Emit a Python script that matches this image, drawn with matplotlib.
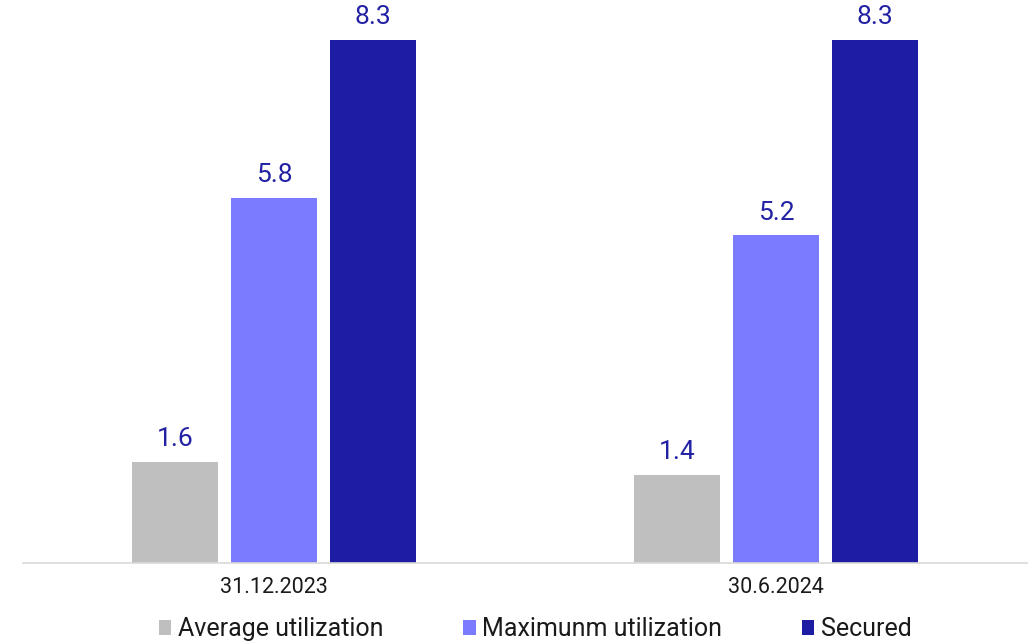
import numpy as np
import matplotlib.pyplot as plt
from matplotlib.patches import Patch

plt.rcParams['font.family'] = ['Roboto', 'DejaVu Sans']

# Data
categories = ['31.12.2023', '30.6.2024']
series_names = ['Average utilization', 'Maximunm utilization', 'Secured']
average_util = [1.6, 1.4]
maximum_util = [5.8, 5.2]
secured = [8.3, 8.3]
colors = ['#bfbfbf', '#7b7bff', '#1e1ca3']
label_color = '#2221a4'

fig = plt.figure(figsize=(10.33, 6.43), dpi=100)
ax = fig.add_axes([23 / 1033, 80 / 643, 1004 / 1033, 563 / 643])

x = np.arange(len(categories))
width = 0.171
step = 0.197

for i, (vals, col) in enumerate(zip([average_util, maximum_util, secured], colors)):
    pos = x + (i - 1) * step
    bars = ax.bar(pos, vals, width=width, color=col)
    for b, v in zip(bars, vals):
        ax.text(b.get_x() + b.get_width() / 2, v + 0.17, f'{v:.1f}',
                ha='center', va='bottom', fontsize=19, color=label_color)

ax.set_xlim(-0.5, 1.5)
ax.set_ylim(0, 563 / 63.0)
ax.set_xticks(x)
ax.set_xticklabels(categories, fontsize=15.5, color='#1a1a1a')
ax.tick_params(axis='x', length=0, pad=10)
ax.set_yticks([])
for s in ['top', 'left', 'right']:
    ax.spines[s].set_visible(False)
ax.spines['bottom'].set_color('#d9d9d9')
ax.spines['bottom'].set_linewidth(1.2)

# legend along the bottom
handles = [Patch(facecolor=c, edgecolor='none') for c in colors]
fig.legend(handles, series_names, loc='center', bbox_to_anchor=(535 / 1033, 14 / 643),
           ncol=3, frameon=False, fontsize=18, handlelength=0.5, handleheight=0.55,
           handletextpad=0.25, columnspacing=3.2, labelcolor='#1a1a1a')

fig.savefig('out.png', dpi=100)
